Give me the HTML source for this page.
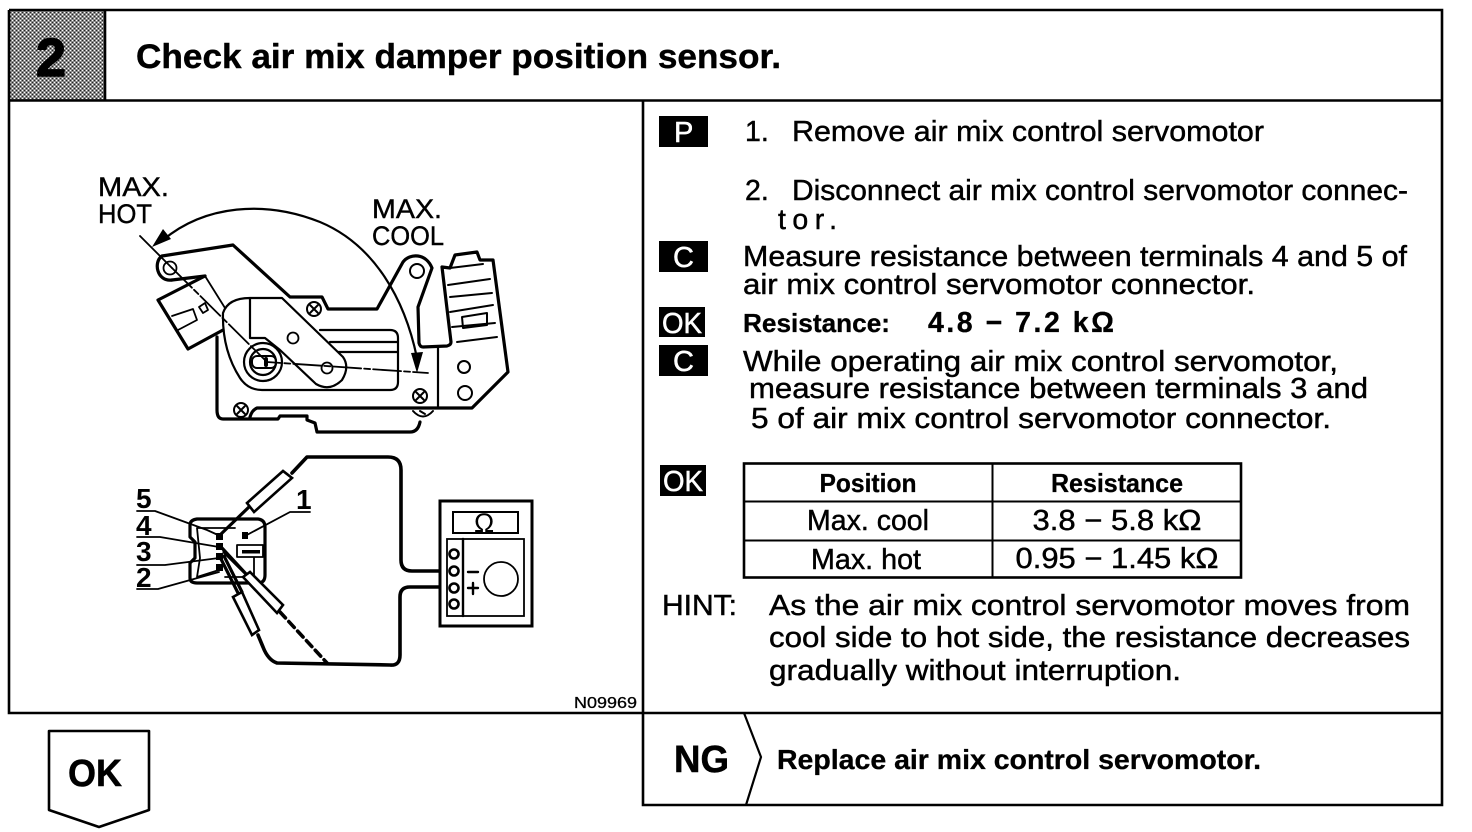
<!DOCTYPE html>
<html><head><meta charset="utf-8"><style>
html,body{margin:0;padding:0;background:#fff}
svg{display:block}
text{font-family:"Liberation Sans",sans-serif;fill:#000}
.t{font-size:28.5px;stroke:#000;stroke-width:.45}
.b{font-size:28.5px;font-weight:bold}
.w{font-size:29px;fill:#fff;stroke:#fff;stroke-width:.5}
.f{fill:none;stroke:#000;stroke-width:3.2;stroke-linejoin:round;stroke-linecap:round}
.n{fill:none;stroke:#000;stroke-width:1.8;stroke-linejoin:round;stroke-linecap:round}
.l{fill:#fff;stroke:#000;stroke-width:2.6}
</style></head><body>
<svg width="1472" height="832" viewBox="0 0 1472 832" xmlns="http://www.w3.org/2000/svg">
<defs><pattern id="d" width="4" height="4" patternUnits="userSpaceOnUse">
<rect width="4" height="4" fill="#8a8a8a"/><rect width="1" height="1" fill="#fff"/><rect x="2" y="2" width="1" height="1" fill="#fff"/><rect x="2" width="1" height="1" fill="#222"/><rect y="2" width="1" height="1" fill="#222"/></pattern></defs>
<rect width="1472" height="832" fill="#fff"/>

<!-- frame -->
<rect x="9" y="10" width="96" height="90" fill="url(#d)"/>
<text x="36" y="76" style="font-size:54px;font-weight:bold" stroke="#000" stroke-width="1.5">2</text>
<path d="M9 10H1442V805H643V100M9 10V713H1442M9 100.5H1442M105 10V100" fill="none" stroke="#000" stroke-width="2.6"/>
<text x="136" y="68" style="font-size:34.500px;font-weight:bold;stroke:#000;stroke-width:.4" textLength="645" lengthAdjust="spacingAndGlyphs">Check air mix damper position sensor.</text>

<!-- upper illustration -->
<text x="98" y="196" style="font-size:26.500px;stroke:#000;stroke-width:.4" textLength="71" lengthAdjust="spacingAndGlyphs">MAX.</text>
<text x="98" y="223" style="font-size:26.500px;stroke:#000;stroke-width:.4" textLength="54" lengthAdjust="spacingAndGlyphs">HOT</text>
<text x="372" y="218" style="font-size:26.500px;stroke:#000;stroke-width:.4" textLength="70" lengthAdjust="spacingAndGlyphs">MAX.</text>
<text x="372" y="245" style="font-size:26.500px;stroke:#000;stroke-width:.4" textLength="72" lengthAdjust="spacingAndGlyphs">COOL</text>

<path class="n" style="stroke-width:2.2" d="M163 240C205 205 265 200 320 222C375 245 405 300 417 358"/>
<path d="M152 247L163 229L171 239Z M417 373L411 353L423 352Z"/>
<path class="n" d="M140 236L172 268"/>
<path class="n" stroke-dasharray="28 3 6 3" d="M172 268L267 362L428 373"/>
<path class="f" d="M162 256L233 245L290 297H322L328 309H377L403 262C410 253 426 253 432 268L418 307L419 343Q420 347 423 347L447 346Q451 345 451 342L442 267L450 268L455 255L477 252L480 260L493 260L508 372L472 408H257Q252 410 250 417"/>
<path class="f" d="M162 256C153 262 157 282 172 280"/>
<circle class="n" cx="170" cy="268" r="6.5"/>
<path class="f" d="M172 280L205 276"/>
<path class="f" d="M205 276L158 300L188 349L223 330"/>
<path class="n" d="M205 276L225 308M172 316L193 309L197 320L178 330M199 307L205 303L208 310L203 313Z"/>
<path class="f" d="M217 337V410Q217 419 223 419H278L280 416H307V420L315 423L317 432H410Q418 432 420 422"/>
<path class="n" style="stroke-width:2.2" d="M223 313Q228 298 250 298H282L343 357Q350 367 342 380Q330 392 316 384L280 350L265 338H250V298M223 313Q222 350 240 378Q248 390 262 390H390Q398 390 398 382V338Q398 330 390 330H320M330 342H398M338 352H398M438 348V408"/>
<circle class="n" cx="293" cy="338" r="5.500"/><circle class="n" cx="327" cy="368" r="5.500"/>
<circle class="n" style="stroke-width:2.2" cx="263" cy="362" r="19"/><circle class="n" style="stroke-width:2.2" cx="263" cy="362" r="13"/>
<rect class="n" style="stroke-width:2" x="252" y="356" width="24" height="12" rx="5" fill="#fff"/>
<rect x="264" y="357" width="4" height="10" rx="2"/>
<g class="n" style="stroke-width:2">
<circle cx="314" cy="309" r="7"/><path d="M310 305L318 313M318 305L310 313"/>
<circle cx="241" cy="410" r="7"/><path d="M237 406L245 414M245 406L237 414"/>
<circle cx="420" cy="396" r="7"/><path d="M416 392L424 400M424 392L416 400"/>
<path d="M413 411Q423 422 433 411M420 411L425 414"/>
<circle cx="417" cy="271" r="7"/><circle cx="464" cy="367" r="6"/><circle cx="465" cy="393" r="7"/>
<path d="M448 285L490 279M450 297L492 293M450 312L493 305M452 327L495 323M457 342L497 337M450 268L483 264"/>
<path d="M462 317L487 313V325L463 328Z"/>
</g>

<!-- connector illustration -->
<g style="font-size:28px;font-weight:bold">
<text x="136" y="508">5</text><text x="136" y="535">4</text><text x="136" y="561">3</text><text x="136" y="587">2</text><text x="296" y="509">1</text>
</g>
<path class="n" d="M137 511H155L207 530L218 535M137 537H160L219 547M137 565H165L219 558M137 589H158L219 572M310 512H290L245 536"/>
<path class="f" d="M197 519H258Q265 520 265 527V575Q265 583 258 583H197Q190 583 190 578V563L195 558V542L190 537V525Q190 520 197 519Z"/>
<path class="n" d="M197 528H235M197 528L200 558L197 577L219 570M237 545H263V557H237ZM254 557V577M225 577H254"/>
<rect x="242" y="550" width="18" height="3.500"/>
<rect x="216" y="533" width="7" height="7"/><rect x="216" y="543" width="7" height="7"/><rect x="216" y="553" width="7" height="7"/><rect x="216" y="564" width="7" height="7"/><rect x="242" y="532" width="6" height="7"/>
<path class="f" d="M220 535L250 506M222 548L247 575M220 557L238 593M224 552L250 578M224 556L242 592"/>
<path class="l" d="M247 503L283 471L292 478L254 512Z M243 577L250 572L283 605L277 613Z M233 597L242 592L259 630L252 635Z"/>
<path class="f" style="stroke-width:3.6" d="M292 473L307 457H388Q401 457 401 470V560Q401 571 412 571H450M450 587H410Q400 587 400 597V655Q400 666 390 665L277 663Q268 660 263 647L258 635"/>
<path class="f" style="stroke-width:3.6" stroke-dasharray="8 5" d="M280 612L327 663"/>

<!-- meter -->
<rect x="440" y="501" width="92" height="125" fill="#fff" stroke="#000" stroke-width="3"/>
<rect x="453" y="512" width="65" height="21" fill="none" stroke="#000" stroke-width="2"/>
<text x="474" y="532" style="font-size:27px">Ω</text>
<rect x="447" y="539" width="77" height="77" fill="none" stroke="#000" stroke-width="1.800"/>
<path class="n" style="stroke-width:2.4" d="M463 539V616M468 572H478"/><path class="n" style="stroke-width:2.4" d="M468 588H478M473 583V594"/>
<g class="l"><circle cx="454" cy="554" r="4.500"/><circle cx="454" cy="571" r="4.500"/><circle cx="454" cy="588" r="4.500"/><circle cx="454" cy="604" r="4.500"/></g>
<circle class="n" cx="501" cy="579" r="17"/>
<text x="574" y="708" style="font-size:16px;stroke:#000;stroke-width:.3" textLength="63" lengthAdjust="spacingAndGlyphs">N09969</text>

<!-- right text -->
<rect x="659" y="116" width="49" height="31"/><text class="w" x="674" y="142">P</text>
<text class="t" x="745" y="141">1.</text><text class="t" x="792" y="141" textLength="472" lengthAdjust="spacingAndGlyphs">Remove air mix control servomotor</text>
<text class="t" x="745" y="200">2.</text><text class="t" x="792" y="200" textLength="616" lengthAdjust="spacingAndGlyphs">Disconnect air mix control servomotor connec-</text>
<text class="t" x="778" y="229" textLength="59" lengthAdjust="spacing">tor.</text>
<rect x="659" y="241" width="49" height="31"/><text class="w" x="673" y="267">C</text>
<text class="t" x="743" y="266" textLength="664" lengthAdjust="spacingAndGlyphs">Measure resistance between terminals 4 and 5 of</text>
<text class="t" x="743" y="294" textLength="512" lengthAdjust="spacingAndGlyphs">air mix control servomotor connector.</text>
<rect x="659" y="307" width="46" height="30"/><text class="w" x="662" y="333" textLength="40" lengthAdjust="spacingAndGlyphs">OK</text>
<text class="b" x="743" y="332" style="font-size:26px;stroke:#000;stroke-width:.3" textLength="147" lengthAdjust="spacingAndGlyphs">Resistance:</text>
<text class="b" x="928" y="332" style="stroke:#000;stroke-width:.3" textLength="186" lengthAdjust="spacing">4.8 − 7.2 kΩ</text>
<rect x="659" y="345" width="49" height="31"/><text class="w" x="673" y="371">C</text>
<text class="t" x="743" y="371" textLength="595" lengthAdjust="spacingAndGlyphs">While operating air mix control servomotor,</text>
<text class="t" x="749" y="398" textLength="619" lengthAdjust="spacingAndGlyphs">measure resistance between terminals 3 and</text>
<text class="t" x="751" y="428" textLength="580" lengthAdjust="spacingAndGlyphs">5 of air mix control servomotor connector.</text>
<rect x="660" y="465" width="46" height="31"/><text class="w" x="663" y="491" textLength="40" lengthAdjust="spacingAndGlyphs">OK</text>

<!-- table -->
<rect x="744" y="463.500" width="497" height="114" fill="none" stroke="#000" stroke-width="2.600"/>
<path d="M744 501.500H1241M744 540.500H1241M992.500 463V578" stroke="#000" stroke-width="2" fill="none"/>
<g text-anchor="middle">
<text class="b" x="868" y="492" style="font-size:26px;stroke:#000;stroke-width:.3" textLength="97" lengthAdjust="spacingAndGlyphs">Position</text>
<text class="b" x="1117" y="492" style="font-size:26px;stroke:#000;stroke-width:.3" textLength="132" lengthAdjust="spacingAndGlyphs">Resistance</text>
<text class="t" x="868" y="530" textLength="122" lengthAdjust="spacingAndGlyphs">Max. cool</text>
<text class="t" x="1117" y="530" textLength="169" lengthAdjust="spacingAndGlyphs">3.8 − 5.8 kΩ</text>
<text class="t" x="866" y="569" textLength="110" lengthAdjust="spacingAndGlyphs">Max. hot</text>
<text class="t" x="1117" y="568" textLength="203" lengthAdjust="spacingAndGlyphs">0.95 − 1.45 kΩ</text>
</g>
<text class="t" x="662" y="615" textLength="75" lengthAdjust="spacingAndGlyphs">HINT:</text>
<text class="t" x="769" y="615" textLength="641" lengthAdjust="spacingAndGlyphs">As the air mix control servomotor moves from</text>
<text class="t" x="769" y="647" textLength="641" lengthAdjust="spacingAndGlyphs">cool side to hot side, the resistance decreases</text>
<text class="t" x="769" y="680" textLength="412" lengthAdjust="spacingAndGlyphs">gradually without interruption.</text>

<!-- bottom -->
<path d="M744 713L761 757L746 805" fill="none" stroke="#000" stroke-width="2.2"/>
<text x="674" y="772" style="font-size:38px;font-weight:bold;stroke:#000;stroke-width:.5" textLength="55" lengthAdjust="spacingAndGlyphs">NG</text>
<text x="777" y="769" style="font-size:28px;font-weight:bold;stroke:#000;stroke-width:.3" textLength="484" lengthAdjust="spacingAndGlyphs">Replace air mix control servomotor.</text>
<path d="M49 731H149V810L99 827L49 810Z" fill="#fff" stroke="#000" stroke-width="2.600" stroke-linejoin="round"/>
<text x="68" y="786" style="font-size:38px;font-weight:bold;stroke:#000;stroke-width:.5" textLength="54" lengthAdjust="spacingAndGlyphs">OK</text>
</svg>
</body></html>
